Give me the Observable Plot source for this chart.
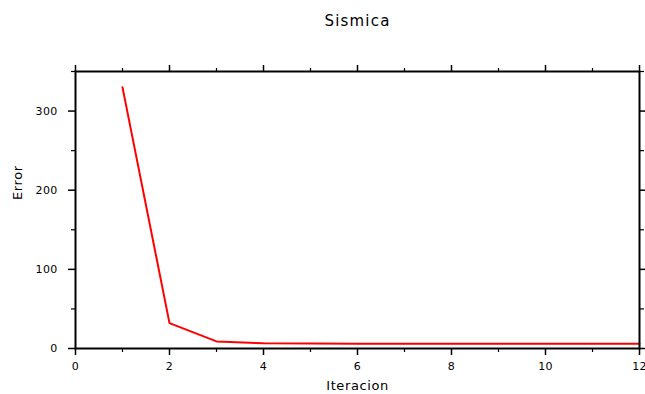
<!DOCTYPE html>
<html><head><meta charset="utf-8">
<script src="https://cdn.jsdelivr.net/npm/d3@7"></script>
<script src="https://cdn.jsdelivr.net/npm/@observablehq/plot@0.6"></script>
<style>
body{margin:0;background:#fff;font-family:"DejaVu Sans",sans-serif;}
#title{height:40px;box-sizing:border-box;padding-left:76px;padding-right:6px;text-align:center;font-size:15px;letter-spacing:1.2px;line-height:43px;color:#000;}
</style></head>
<body>
<div id="title">Sismica</div>
<div id="chart"></div>
<script>
const iteracion = [1,2,3,4,5,6,7,8,9,10,11,12];
const error = [330,32,9,6.5,6.2,6.1,6,6,6,6,6,6];
const xMajor = [0,2,4,6,8,10,12];
const xMinor = [1,3,5,7,9,11];
const yMajor = [0,100,200,300];
const yMinor = [50,150,250,350];
const data = iteracion.map((x,i)=>({x, y: error[i]}));

const none = () => "";
const font = "DejaVu Sans";
const plot = Plot.plot({
  width: 645, height: 354,
  marginLeft: 75, marginRight: 6, marginTop: 31, marginBottom: 46,
  style: {fontFamily: font, fontSize: "11px", color: "#000", background: "#fff"},
  x: {domain: [0,12]},
  y: {domain: [0,350]},
  marks: [
    Plot.line(data, {x: "x", y: "y", stroke: "#ff0000", strokeWidth: 2}),
    Plot.axisX(xMajor, {anchor: "bottom", tickSize: 7, tickPadding: 7, tickFormat: d=>d, strokeWidth: 1.5, label: null}),
    Plot.axisX(xMinor, {anchor: "bottom", tickSize: 4, tickFormat: none, strokeWidth: 1.2, label: null}),
    Plot.axisX(xMajor, {anchor: "top", tickSize: 7, tickFormat: none, strokeWidth: 1.5, label: null}),
    Plot.axisX(xMinor, {anchor: "top", tickSize: 4, tickFormat: none, strokeWidth: 1.2, label: null}),
    Plot.axisY(yMajor, {anchor: "left", tickSize: 7, tickPadding: 11, tickFormat: d=>d, strokeWidth: 1.5, label: null}),
    Plot.axisY(yMinor, {anchor: "left", tickSize: 4, tickFormat: none, strokeWidth: 1.2, label: null}),
    Plot.axisY(yMajor, {anchor: "right", tickSize: 7, tickFormat: none, strokeWidth: 1.5, label: null}),
    Plot.axisY(yMinor, {anchor: "right", tickSize: 4, tickFormat: none, strokeWidth: 1.2, label: null}),
    Plot.frame({stroke: "#000", strokeWidth: 2}),
    Plot.text(["Iteracion"], {frameAnchor: "bottom", dy: 41, fontSize: 13, text: d=>d, fill: "#000"}),
    Plot.text(["Error"], {frameAnchor: "left", dx: -58, dy: -10, rotate: -90, fontSize: 13, text: d=>d, fill: "#000"})
  ]
});
d3.select(plot).selectAll("g[aria-label$='tick label'] text").style("letter-spacing", "0.3px");
d3.select(plot).selectAll("g[aria-label='text'] text").style("letter-spacing", "0.6px");
document.getElementById("chart").appendChild(plot);
</script>
</body></html>
